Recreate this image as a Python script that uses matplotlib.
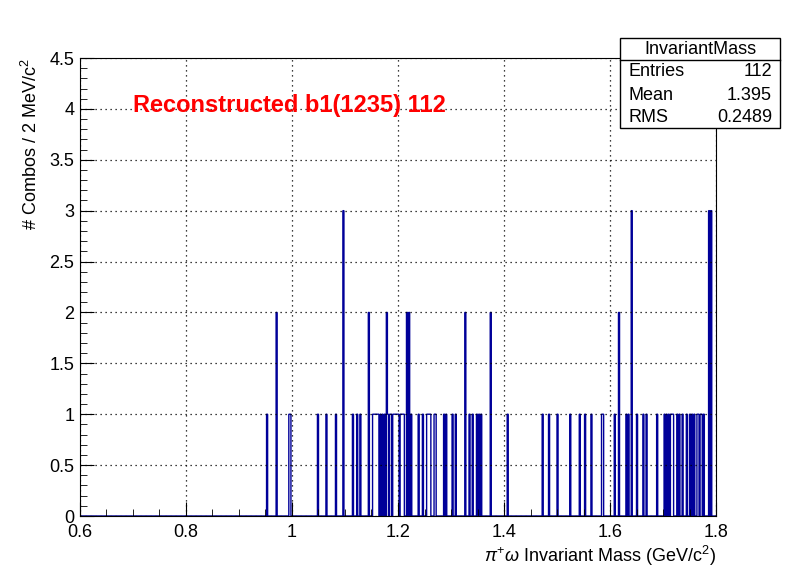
import numpy as np
import matplotlib
matplotlib.use("Agg")
import matplotlib.pyplot as plt
from matplotlib.ticker import MultipleLocator, FuncFormatter

plt.rcParams["font.family"] = "Liberation Sans"
plt.rcParams["mathtext.fontset"] = "custom"
plt.rcParams["mathtext.rm"] = "Liberation Sans"
plt.rcParams["mathtext.it"] = "Liberation Sans:italic"

masses = [0.953,0.971,0.971,0.995,0.997,1.049,1.065,1.083,1.097,1.097,1.097,
 1.115,1.123,1.129,1.145,1.145,1.153,1.155,1.157,1.159,1.161,1.163,1.167,1.171,1.175,
 1.179,1.179,1.181,1.185,1.187,1.191,1.193,1.195,1.197,1.199,1.201,1.205,1.207,1.209,1.211,
 1.217,1.217,1.221,1.221,1.225,1.239,1.247,1.255,1.257,1.259,1.261,1.269,1.271,1.287,1.291,
 1.303,1.309,1.327,1.327,1.335,1.341,1.349,1.353,1.357,1.375,1.375,1.407,1.473,1.485,1.501,
 1.525,1.543,1.553,1.565,1.585,1.587,1.609,1.617,1.617,1.631,1.635,1.641,1.641,1.641,1.651,
 1.663,1.669,1.689,1.703,1.707,1.711,1.715,1.717,1.719,1.727,1.731,1.737,1.745,1.751,1.755,
 1.759,1.765,1.767,1.771,1.773,1.777,1.787,1.787,1.787,1.791,1.791,1.791]
stat_mean = 1.395
stat_rms = 0.2489
xmin, xmax = 0.6, 1.8
edges = np.linspace(xmin, xmax, 601)
counts, _ = np.histogram(masses, bins=edges)

fig = plt.figure(figsize=(7.96, 5.72), dpi=100)
ax = fig.add_axes([0.1005, 0.0979, 0.799, 0.8007])
ax.stairs(counts, edges, color="#000099", linewidth=1.0)
ax.set_xlim(xmin, xmax)
ax.set_ylim(0, 4.5)
fmt = FuncFormatter(lambda v, p: f"{v:g}")
ax.xaxis.set_major_formatter(fmt)
ax.yaxis.set_major_formatter(fmt)
ax.xaxis.set_major_locator(MultipleLocator(0.2))
ax.xaxis.set_minor_locator(MultipleLocator(0.05))
ax.yaxis.set_major_locator(MultipleLocator(0.5))
ax.yaxis.set_minor_locator(MultipleLocator(0.1))
ax.tick_params(which="both", direction="in", top=False, right=False, labelsize=13)
ax.tick_params(which="major", length=10)
ax.tick_params(which="minor", length=5)
ax.tick_params(axis="y", pad=4)
ax.tick_params(axis="x", pad=6)
ax.grid(True, which="major", linestyle=(0, (1, 3)), color="black", linewidth=0.9)
ax.set_xlabel(r"$\pi^{+}\omega$ Invariant Mass (GeV/c$^{2}$)", fontsize=13, loc="right", labelpad=2)
ax.set_ylabel(r"# Combos / 2 MeV/c$^{2}$", fontsize=13, loc="top", labelpad=6)
ax.text(0.7, 4.03, "Reconstructed b1(1235) 112", color="red", fontsize=17,
        fontweight="bold", va="center")

n = len(masses)
bx0, bx1 = 620/796, 780/796
by1, by0 = 1-38/572, 1-128/572
box = plt.Rectangle((bx0, by0), bx1-bx0, by1-by0, transform=fig.transFigure,
                    facecolor="white", edgecolor="black", linewidth=1, zorder=5)
fig.add_artist(box)
fig.add_artist(plt.Line2D([bx0, bx1], [1-60/572]*2, transform=fig.transFigure, color="black", lw=1, zorder=6))
fig.text((bx0+bx1)/2, 1-49/572, "InvariantMass", ha="center", va="center", fontsize=13, zorder=7)
rows = [("Entries", f"{n}"), ("Mean", f"{stat_mean:.3f}"), ("RMS", f"{stat_rms:.4f}")]
for i, (k, v) in enumerate(rows):
    yy = 1-(72+23*i)/572
    fig.text(bx0+8/796, yy, k, ha="left", va="center", fontsize=13, zorder=7)
    fig.text(bx1-8/796, yy, v, ha="right", va="center", fontsize=13, zorder=7)
fig.savefig("out.png", dpi=100)
